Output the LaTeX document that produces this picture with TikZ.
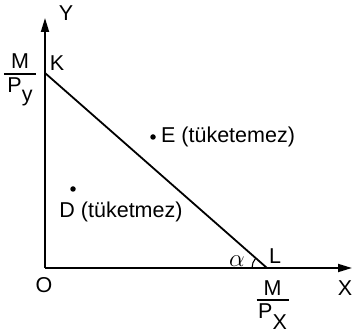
\documentclass[tikz,border=0pt]{standalone}
\usepackage{fontspec}
\setmainfont{Liberation Sans}
\usetikzlibrary{arrows.meta,positioning}

% M over P with a lowered subscript, stacked by hand
\newcommand{\pricefrac}[2]{\vbox{\offinterlineskip\halign{\hfil##\hfil\cr
  M\cr\noalign{\kern4pt}
  \vrule width 32pt height 1.6pt\cr\noalign{\kern3pt}
  P\raisebox{#2}{#1}\cr}}}

\begin{document}
\begin{tikzpicture}[
  x=1pt, y=1pt,
  font=\fontsize{21.5}{24}\selectfont,
  axis/.style={-{Triangle[length=14pt,width=8pt]}, line width=1.8pt},
  budget/.style={line width=1.8pt},
  lbl/.style={inner sep=0pt},
  pt/.style={circle, fill, inner sep=0pt, minimum size=5.5pt}
]
\useasboundingbox (0,0) rectangle (353,334);
% axes
\coordinate (o) at (45,66);
\coordinate (ytip) at (45,316);
\coordinate (xtip) at (352,66);
\coordinate (k) at (45,261);
\coordinate (l) at (267,66);
\draw[axis] (o) -- (ytip);
\draw[axis] (o) -- (xtip);
% budget line
\draw[budget] (k) -- (l);
\draw[line width=1.1pt] ([shift={(180:15pt)}]l) arc[start angle=180, end angle=139, radius=15pt];
% labels
\node[lbl] (ylab) at (66,321) {Y};
\node[lbl] (xlab) at (345,46) {X};
\node[lbl] (olab) at (44,49) {O};
\node[lbl] (klab) at (57,271) {K};
\node[lbl] (llab) at (275,78) {L};
\node[lbl, font=\fontsize{26}{28}\selectfont] (alpha) at (237,73) {$\alpha$};
\node[lbl, anchor=north] (mpy) at (20,280) {\pricefrac{y}{-9.5pt}};
\node[lbl, anchor=north] (mpx) at (272.5,53.5) {\pricefrac{X}{-11pt}};
% points
\node[pt] (e) at (153,197) {};
\node[lbl, right=5pt of e] (elab) {E (tüketemez)};
\node[pt] (d) at (73,145) {};
\node[lbl] (dlab) at (121,122) {D (tüketmez)};
\end{tikzpicture}
\end{document}
